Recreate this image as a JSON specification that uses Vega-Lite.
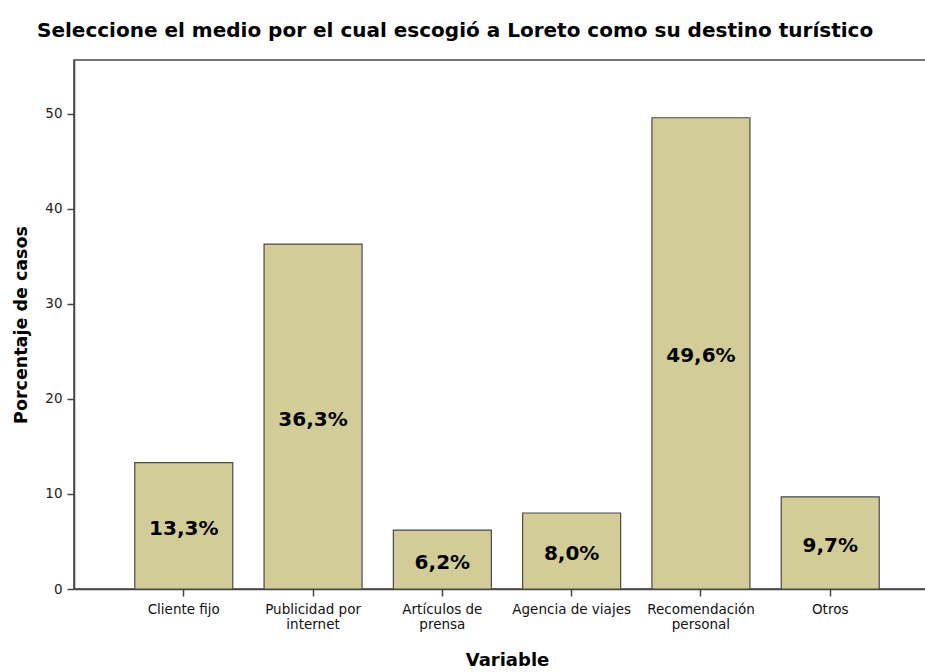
{
  "$schema": "https://vega.github.io/schema/vega-lite/v6.json",
  "autosize": "none",
  "width": 853,
  "height": 529,
  "padding": {"left": 74, "top": 60, "right": 0, "bottom": 83},
  "background": "white",
  "title": {
    "text": "Seleccione el medio por el cual escogió a Loreto como su destino turístico",
    "anchor": "start",
    "frame": "group",
    "dx": -37,
    "offset": 19,
    "font": "DejaVu Sans",
    "fontSize": 20,
    "fontWeight": "bold",
    "color": "#000000"
  },
  "config": {
    "view": {"stroke": "#444444", "strokeWidth": 1.5},
    "font": "DejaVu Sans"
  },
  "data": {
    "values": [
      {"categoria": "Cliente fijo", "pct": 13.3, "etiqueta": "13,3%"},
      {"categoria": "Publicidad por internet", "pct": 36.3, "etiqueta": "36,3%"},
      {"categoria": "Artículos de prensa", "pct": 6.2, "etiqueta": "6,2%"},
      {"categoria": "Agencia de viajes", "pct": 8.0, "etiqueta": "8,0%"},
      {"categoria": "Recomendación personal", "pct": 49.6, "etiqueta": "49,6%"},
      {"categoria": "Otros", "pct": 9.7, "etiqueta": "9,7%"}
    ]
  },
  "encoding": {
    "x": {
      "field": "categoria",
      "type": "nominal",
      "sort": null,
      "scale": {"range": [0, 866], "paddingInner": 0.242, "paddingOuter": 0.47},
      "axis": {
        "title": "Variable",
        "titleFont": "DejaVu Sans",
        "titleFontSize": 18,
        "titleFontWeight": "bold",
        "titleColor": "#000000",
        "titlePadding": 21,
        "labelAngle": 0,
        "labelFont": "DejaVu Sans",
        "labelFontSize": 13.5,
        "labelColor": "#111111",
        "labelPadding": 6,
        "labelLineHeight": 15,
        "labelExpr": "datum.label == 'Publicidad por internet' ? ['Publicidad por', 'internet'] : datum.label == 'Artículos de prensa' ? ['Artículos de', 'prensa'] : datum.label == 'Recomendación personal' ? ['Recomendación', 'personal'] : datum.label",
        "tickColor": "#444444",
        "tickSize": 7,
        "tickWidth": 1.5,
        "domainColor": "#444444",
        "domainWidth": 1.5,
        "labelOverlap": false
      }
    }
  },
  "layer": [
    {
      "mark": {"type": "bar", "color": "#d2cd98", "stroke": "#4a4a4a", "strokeWidth": 1.2},
      "encoding": {
        "y": {
          "field": "pct",
          "type": "quantitative",
          "scale": {"domain": [0, 55.68], "nice": false},
          "axis": {
            "title": "Porcentaje de casos",
            "titleFont": "DejaVu Sans",
            "titleFontSize": 17.5,
            "titleFontWeight": "bold",
            "titleColor": "#000000",
            "titlePadding": 14,
            "values": [0, 10, 20, 30, 40, 50],
            "grid": false,
            "labelFont": "DejaVu Sans",
            "labelFontSize": 13.5,
            "labelColor": "#222222",
            "labelPadding": 5,
            "tickColor": "#444444",
            "tickSize": 7,
            "tickWidth": 1.5,
            "domainColor": "#444444",
            "domainWidth": 1.5
          }
        }
      }
    },
    {
      "mark": {"type": "text", "font": "DejaVu Sans", "fontSize": 20, "fontWeight": "bold", "color": "#000000", "baseline": "middle", "dy": 3},
      "encoding": {
        "y": {
          "field": "pct",
          "type": "quantitative",
          "scale": {"domain": [0, 111.36], "nice": false},
          "axis": null
        },
        "text": {"field": "etiqueta"}
      }
    }
  ],
  "resolve": {"scale": {"y": "independent"}}
}
